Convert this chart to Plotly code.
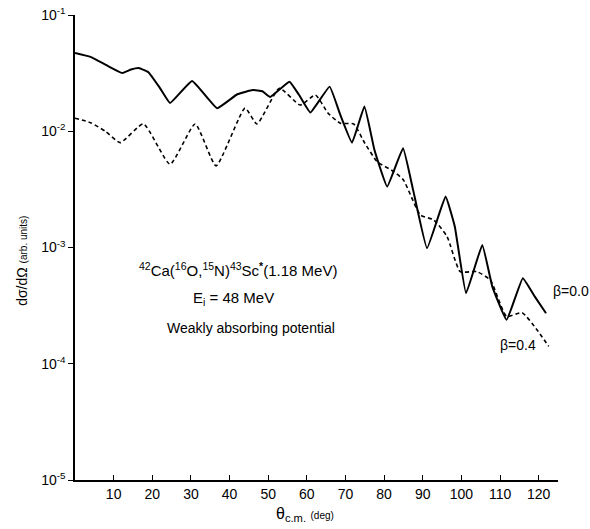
import plotly.graph_objects as go

# beta = 0.0 (solid)
theta_b00 = [0.0, 4, 8, 12.2, 14.5, 16.5, 19, 22, 24.6, 30.3, 36.8, 42, 46, 48.5, 50.5, 55.5, 58, 60.9,
             65.9, 68.5, 71.7, 74.9, 77.5, 80.8, 84.9, 87.5, 91.1, 95.9, 98.3, 101.2, 105.4,
             108, 111.7, 115.9, 119, 121.9]
sigma_b00 = [0.0471, 0.0436, 0.0372, 0.0317, 0.0340, 0.0350, 0.0322, 0.0235, 0.0175, 0.0271, 0.0158,
             0.0208, 0.0226, 0.0221, 0.0197, 0.0267, 0.0205, 0.0145, 0.0242, 0.0143, 0.00798,
             0.0163, 0.0069, 0.00334, 0.00714, 0.00313, 0.000986, 0.00274, 0.00151, 0.000405,
             0.00105, 0.000461, 0.000239, 0.000545, 0.000378, 0.000272]

# beta = 0.4 (dashed)
theta_b04 = [0.0, 4, 8, 11.7, 17.7, 24.6, 31.1, 36.5, 44.0, 47.1, 52.9, 58.3, 62.2, 65.5, 68.7,
             72.1, 75, 78.2, 82.5, 85, 89.4, 92.8, 96.3, 99.7, 104.0, 107.5, 111.7, 115.7,
             119.6, 122.6]
sigma_b04 = [0.01294, 0.01186, 0.00993, 0.00798, 0.01156, 0.0052, 0.01156, 0.00504, 0.0158,
             0.01156, 0.0234, 0.0168, 0.0205, 0.0143, 0.0117, 0.01156, 0.00789, 0.00548, 0.0045,
             0.00381, 0.0019, 0.00173, 0.00124, 0.00062, 0.00062, 0.000525, 0.000255, 0.000275,
             0.000195, 0.000141]

x_ticks = [10, 20, 30, 40, 50, 60, 70, 80, 90, 100, 110, 120]
y_ticks = [1e-5, 1e-4, 1e-3, 1e-2, 1e-1]
y_ticktext = ["10<sup>-5</sup>", "10<sup>-4</sup>", "10<sup>-3</sup>", "10<sup>-2</sup>", "10<sup>-1</sup>"]

FONT = "Liberation Sans"

fig = go.Figure()
fig.add_trace(go.Scatter(x=theta_b00, y=sigma_b00, mode="lines",
                         line=dict(color="black", width=2, shape="spline", smoothing=0.3),
                         showlegend=False))
fig.add_trace(go.Scatter(x=theta_b04, y=sigma_b04, mode="lines",
                         line=dict(color="black", width=1.6, dash="4px,3px", shape="spline", smoothing=0.5),
                         showlegend=False))

fig.update_layout(
    width=590, height=529,
    margin=dict(l=75, r=32, t=15, b=49),
    paper_bgcolor="white", plot_bgcolor="white",
    font=dict(family=FONT, color="black", size=14),
    xaxis=dict(range=[0, 125], tickvals=x_ticks, ticks="inside", ticklen=5, tickcolor="black",
               showline=True, linecolor="black", linewidth=1.5, showgrid=False, zeroline=False,
               tickfont=dict(size=14), automargin=False, ticklabeloverflow="allow"),
    yaxis=dict(type="log", range=[-5, -1], tickvals=y_ticks, ticktext=y_ticktext,
               ticks="outside", ticklen=5, tickcolor="black",
               showline=True, linecolor="black", linewidth=1.5, showgrid=False, zeroline=False,
               tickfont=dict(size=14), automargin=False, ticklabeloverflow="allow"),
)

ann = [
    dict(x=-0.110, y=0.471, text="dσ/dΩ <span style='font-size:10px'>(arb. units)</span>",
         textangle=-90, font=dict(size=14)),
    dict(x=0.476, y=-0.075, text="θ<sub>c.m.</sub> <span style='font-size:10px'>(deg)</span>", font=dict(size=16)),
    dict(x=0.337, y=0.452,
         text="<sup>42</sup>Ca(<sup>16</sup>O,<sup>15</sup>N)<sup>43</sup>Sc<sup><b>*</b></sup>(1.18 MeV)",
         font=dict(size=15)),
    dict(x=0.329, y=0.391, text="E<sub>i</sub> = 48 MeV", font=dict(size=15)),
    dict(x=0.364, y=0.327, text="Weakly absorbing potential", font=dict(size=14)),
    dict(x=0.986, y=0.406, text="β=0.0", font=dict(size=14), xanchor="left"),
    dict(x=0.917, y=0.290, text="β=0.4", font=dict(size=14)),
]
for a in ann:
    a.setdefault("xanchor", "center")
    a.update(xref="paper", yref="paper", showarrow=False, yanchor="middle")
    fig.add_annotation(**a)

fig.write_html("out.html", config={"displayModeBar": False},
               post_script="document.body.style.margin='0';")
